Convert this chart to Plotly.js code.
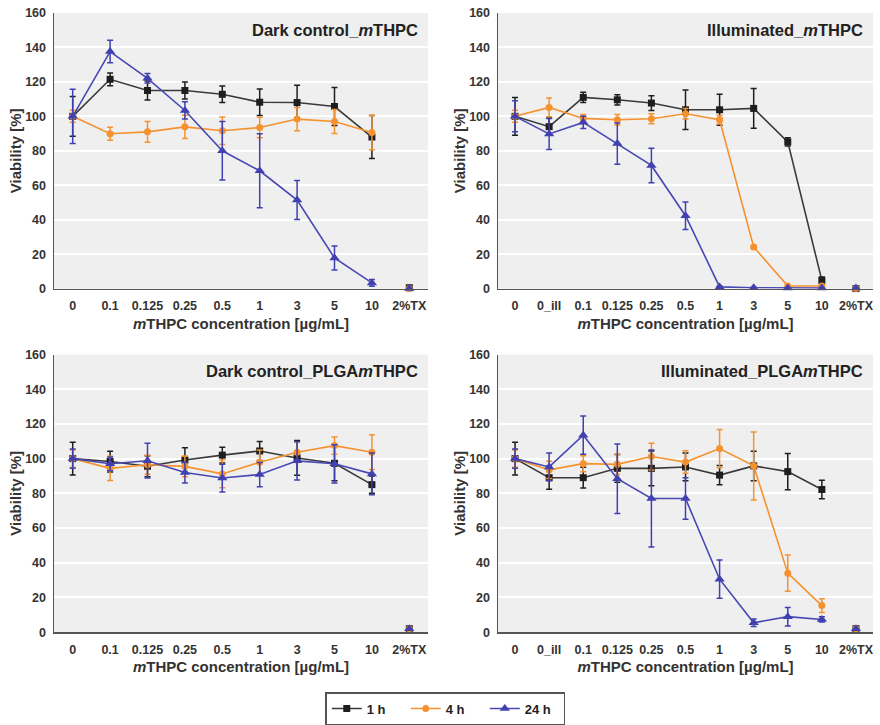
<!DOCTYPE html>
<html>
<head>
<meta charset="utf-8">
<script src="https://cdn.plot.ly/plotly-3.0.1.min.js"></script>
<style>html,body{margin:0;padding:0;background:#fff;}#chart{width:880px;height:725px;}</style>
</head>
<body>
<div id="chart"></div>
<script>
// ---------- categories ----------
const catsDark = ['0','0.1','0.125','0.25','0.5','1','3','5','10','2%TX'];
const catsIll  = ['0','0_ill','0.1','0.125','0.25','0.5','1','3','5','10','2%TX'];
const seriesNames = ['1 h','4 h','24 h'];

// ---------- Dark control_mTHPC ----------
const dcM_1h     = [100,121.5,115,115,112.8,108.2,108,105.7,88,0.5];
const dcM_1h_err = [11.5,3.7,5.5,5,4.8,7.7,10,11,12.5,0];
const dcM_4h     = [100,89.9,91,93.9,91.6,93.5,98.4,97,90.6,0];
const dcM_4h_err = [3.5,3.8,6,6.7,8,6,6.7,7,10,0];
const dcM_24h     = [100,137.6,122.1,103.4,80,68.4,51.4,17.8,3.3,0];
const dcM_24h_err = [15.7,6.5,2.7,5,17,21.5,11.3,7,2,0];

// ---------- Illuminated_mTHPC ----------
const ilM_1h     = [100,94,111,109.6,107.7,103.8,103.8,104.6,85.2,4.8,0];
const ilM_1h_err = [11,5,3,3,4.3,11.5,9,11.5,2.4,2,0];
const ilM_4h     = [100,105.2,98.8,98,98.6,101.5,98,24.2,1.5,1.5,0];
const ilM_4h_err = [3.5,5.5,2.3,3,2.9,3,2.5,1,0.5,0.5,0];
const ilM_24h     = [100,89.8,96.5,84.2,71.5,42.3,1,0.5,0.3,0.3,0.3];
const ilM_24h_err = [9,9,3.5,12,10,8,0.5,0.3,0.2,0.2,0];

// ---------- Dark control_PLGAmTHPC ----------
const dcP_1h     = [100,98.3,95.6,99.2,102,104.4,100.4,97.3,85,2];
const dcP_1h_err = [9.4,6,6,7,4.5,5.5,10,10,5,0];
const dcP_4h     = [100,94.4,96.5,95.5,91.2,97.9,103.7,107.5,103.7,2];
const dcP_4h_err = [5,7,5.5,6,8,7,6,5,10,0];
const dcP_24h     = [100,97,98.8,92,88.8,90.8,98.7,97,91.2,2];
const dcP_24h_err = [5.5,4,10,6,8,7,11,11,12,0];

// ---------- Illuminated_PLGAmTHPC ----------
const ilP_1h     = [100,89,89,94.4,94.4,95.2,90.5,95.8,92.5,82.2,2];
const ilP_1h_err = [9.5,6.7,6,8,10,8,5.5,8.5,10.5,5.3,0];
const ilP_4h     = [100,93.5,97.1,96.7,101.2,98,105.8,95.8,34,15.3,2];
const ilP_4h_err = [5,5,4.6,5.8,7.7,6.5,11,19.6,10.4,4,0];
const ilP_24h     = [100,95.2,113.5,88.4,77,77,30.5,5.4,8.9,7.3,2];
const ilP_24h_err = [5.5,8,11,20,28,12,11,2.2,5.3,1.5,0];

// ---------- styles ----------
const colors  = ['#1e1e1e','#f5922f','#4040b0'];
const lineCol = ['#3a3a3a','#f5922f','#4848b4'];
const symbols = ['square','circle','triangle-up'];
const msizes  = [7,7,9];

const traces = [];
function addPanel(xa, ya, cats, vals, errs, showLegend) {
  for (let s = 0; s < 3; s++) {
    const n = cats.length - 1;
    traces.push({
      type:'scatter', mode:'lines+markers', xaxis:xa, yaxis:ya,
      x: cats.slice(0,n), y: vals[s].slice(0,n),
      name: seriesNames[s], legendgroup: seriesNames[s], showlegend: showLegend,
      line:{color:lineCol[s], width:1.6},
      marker:{color:colors[s], symbol:symbols[s], size:msizes[s]},
      error_y:{type:'data', array:errs[s].slice(0,n), visible:true, color:colors[s], thickness:1.5, width:3},
      cliponaxis:false
    });
    traces.push({
      type:'scatter', mode:'markers', xaxis:xa, yaxis:ya,
      x: cats.slice(n), y: vals[s].slice(n),
      name: seriesNames[s], legendgroup: seriesNames[s], showlegend:false,
      marker:{color:colors[s], symbol:symbols[s], size:msizes[s]},
      cliponaxis:false
    });
  }
}
addPanel('x','y',  catsDark,[dcM_1h,dcM_4h,dcM_24h],[dcM_1h_err,dcM_4h_err,dcM_24h_err],true);
addPanel('x2','y2',catsIll, [ilM_1h,ilM_4h,ilM_24h],[ilM_1h_err,ilM_4h_err,ilM_24h_err],false);
addPanel('x3','y3',catsDark,[dcP_1h,dcP_4h,dcP_24h],[dcP_1h_err,dcP_4h_err,dcP_24h_err],false);
addPanel('x4','y4',catsIll, [ilP_1h,ilP_4h,ilP_24h],[ilP_1h_err,ilP_4h_err,ilP_24h_err],false);

const FONT = 'Liberation Sans, Arial, sans-serif';
function xAxis(domain, anchor, cats) {
  return {
    domain: domain, anchor: anchor, type:'category', range:[-0.5, cats.length-0.5],
    showline:true, linecolor:'#555', linewidth:1.5, showgrid:false, zeroline:false,
    ticks:'outside', ticklen:5, tickcolor:'rgba(0,0,0,0)',
    tickfont:{family:FONT, size:12.5, color:'#333', weight:'bold'},
    title:{text:'<i>m</i>THPC concentration [µg/mL]', font:{family:FONT, size:15, color:'#333', weight:'bold'}, standoff:6}
  };
}
function yAxis(domain, anchor) {
  return {
    domain: domain, anchor: anchor, range:[0,160], dtick:20, tick0:0,
    showline:true, linecolor:'#555', linewidth:1.5, gridcolor:'#ffffff', gridwidth:2, zeroline:false,
    ticks:'outside', ticklen:4, tickcolor:'rgba(0,0,0,0)',
    tickfont:{family:FONT, size:12.5, color:'#333', weight:'bold'},
    title:{text:'Viability [%]', font:{family:FONT, size:15, color:'#333', weight:'bold'}, standoff:0}
  };
}
const xL = [54/880, 428/880], xR = [498/880, 873/880];
const yT = [1-289/725, 1-13/725], yB = [1-633/725, 1-355/725];

function title(txt, xr, yr) {
  return {text:txt, xref:xr+' domain', yref:yr+' domain', x:0.978, y:0.94, xanchor:'right', yanchor:'middle',
          showarrow:false, font:{family:FONT, size:16.5, color:'#222', weight:'bold'}};
}

const layout = {
  width:880, height:725, margin:{l:0,r:0,t:0,b:0},
  paper_bgcolor:'#ffffff', plot_bgcolor:'#efefef',
  xaxis: xAxis(xL,'y',catsDark), yaxis: yAxis(yT,'x'),
  xaxis2: xAxis(xR,'y2',catsIll), yaxis2: yAxis(yT,'x2'),
  xaxis3: xAxis(xL,'y3',catsDark), yaxis3: yAxis(yB,'x3'),
  xaxis4: xAxis(xR,'y4',catsIll), yaxis4: yAxis(yB,'x4'),
  annotations:[
    title('Dark control_<i>m</i>THPC','x','y'),
    title('Illuminated_<i>m</i>THPC','x2','y2'),
    title('Dark control_PLGA<i>m</i>THPC','x3','y3'),
    title('Illuminated_PLGA<i>m</i>THPC','x4','y4')
  ],
  showlegend:true,
  legend:{orientation:'h', x:0.506, xanchor:'center', y:1-709/725, yanchor:'middle',
          bordercolor:'#555', borderwidth:1.5, bgcolor:'#fff', entrywidth:34, entrywidthmode:'pixels',
          font:{family:FONT, size:13, color:'#222', weight:'bold'}, traceorder:'normal'}
};

Plotly.newPlot('chart', traces, layout, {displayModeBar:false, staticPlot:true});
</script>
</body>
</html>
